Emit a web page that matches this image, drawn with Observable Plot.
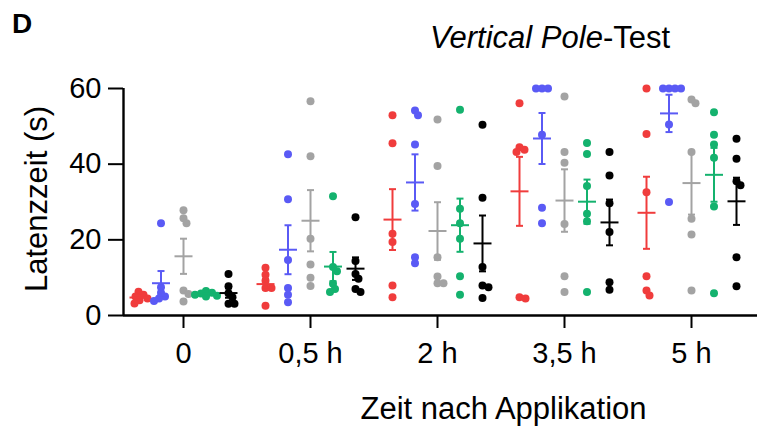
<!DOCTYPE html>
<html><head><meta charset="utf-8">
<script src="https://cdn.jsdelivr.net/npm/d3@7"></script>
<script src="https://cdn.jsdelivr.net/npm/@observablehq/plot@0.6"></script>
<style>
html,body{margin:0;padding:0;background:#fff;}
#chart svg{display:block;}
</style></head><body>
<div id="chart"></div>
<script>
// ---- data ----
const groups = ["0", "0,5 h", "2 h", "3,5 h", "5 h"];
const seriesNames = ["rot", "blau", "grau", "grün", "schwarz"];
const seriesColors = ["#f03c3c", "#5a5af5", "#a3a3a3", "#14b26e", "#000000"];
const rot     = [[6.3,5.5,5.0,4.5,4.0,3.2],[12.6,10.8,9.2,7.3,7.3,2.6],[52.9,45.5,21.6,19.4,7.9,4.8],[56.1,44.5,43.8,43.2,4.8,4.5],[60,48,32.6,10.4,6.6,5.3]];
const blau    = [[24.4,7.5,6.0,5.0,4.5,3.8],[42.6,30.7,14.7,7.3,5.5,3.5],[54.2,52.9,45.2,29.5,15.4,13.8],[60,60,60,47.8,28.5,24.4],[60,60,60,60,50.5,30]];
const grau    = [[27.8,25.7,24.4,6.6,5.7,3.7],[56.6,42.1,20.3,13.5,10.0,7.8],[51.8,39.5,15.4,10.3,8.5,8.5],[57.9,43.2,40.4,24.2,10.4,6.2],[57.1,56.1,43.2,25.6,21.4,6.6]];
const gruen   = [[6.5,6.0,5.8,5.5,5.2,5.0],[31.5,12.8,11.7,8.4,7.0,6.2],[54.4,28.2,24.4,20.3,10.4,5.5],[45.6,42.7,34.2,26.9,24.9,6.2],[53.7,47.8,45.2,41.7,28.8,5.9]];
const schwarz = [[11.0,7.7,5.9,4.8,3.1,3.1],[26.0,14.4,11.0,9.7,7.0,6.2],[50.4,31.1,12.8,7.9,7.5,4.6],[43.2,37.0,29.7,22.1,8.8,6.8],[46.7,41.4,35.5,34.4,15.4,7.7]];
const yTicks = [0, 20, 40, 60];

// ---- layout ----
const W = 757, H = 426;
const mL = 123, mR = 0, mT = 88, mB = 111;
const pxPerGroup = 127;
const x0 = -(183 - mL) / pxPerGroup;
const xDomain = [x0, x0 + (W - mL - mR) / pxPerGroup];
const pxPerY = (H - mT - mB) / 60;
const seriesSep = 22.5 / pxPerGroup;

const allSeries = [rot, blau, grau, gruen, schwarz];
const points = [], stats = [];
allSeries.forEach((ser, si) => {
  ser.forEach((vals, gi) => {
    const cx = gi + (si - 2) * seriesSep;
    // simple beeswarm in pixel space
    const placed = [];
    const sorted = vals.map((v, i) => ({v, i})).sort((a, b) => b.v - a.v);
    for (const p of sorted) {
      const py = p.v * pxPerY;
      let off = 0;
      for (let k = 0; k < 60; k++) {
        const cand = (k % 2 ? 1 : -1) * Math.ceil(k / 2) * 1.0;
        if (placed.every(q => Math.hypot(q.off - cand, q.py - py) >= 5.5)) { off = cand; break; }
      }
      placed.push({off, py});
      points.push({x: cx + off / pxPerGroup, y: p.v, color: seriesColors[si], s: seriesNames[si], g: groups[gi]});
    }
    const m = d3.mean(vals), sem = d3.deviation(vals) / Math.sqrt(vals.length);
    stats.push({cx, m, lo: m - sem, hi: m + sem, color: seriesColors[si]});
  });
});

const meanHW = 9 / pxPerGroup, capHW = 3.5 / pxPerGroup;

const plot = Plot.plot({
  width: W, height: H,
  marginLeft: mL, marginRight: mR, marginTop: mT, marginBottom: mB,
  x: {domain: xDomain, axis: null},
  y: {domain: [0, 60], axis: null},
  color: {type: "identity"},
  style: {fontFamily: "'Liberation Sans', Arial, sans-serif", fontSize: "29px", color: "#000", background: "#fff", overflow: "visible"},
  marks: [
    Plot.axisY({ticks: yTicks, tickSize: 15, tickPadding: 7, strokeWidth: 2, label: null, fontSize: 29}),
    Plot.axisX({ticks: d3.range(groups.length), tickFormat: i => groups[i], tickSize: 13, tickPadding: 14, strokeWidth: 2, label: null, fontSize: 29}),
    Plot.ruleY([0], {strokeWidth: 2.4}),
    Plot.ruleX([xDomain[0]], {y1: 0, y2: 60, strokeWidth: 2.4}),
    Plot.dot(points, {x: "x", y: "y", r: 4, fill: "color", stroke: null}),
    Plot.link(stats, {x1: d => d.cx, x2: d => d.cx, y1: "lo", y2: "hi", stroke: "color", strokeWidth: 2}),
    Plot.link(stats, {x1: d => d.cx - meanHW, x2: d => d.cx + meanHW, y1: "m", y2: "m", stroke: "color", strokeWidth: 2}),
    Plot.link(stats, {x1: d => d.cx - capHW, x2: d => d.cx + capHW, y1: "lo", y2: "lo", stroke: "color", strokeWidth: 2}),
    Plot.link(stats, {x1: d => d.cx - capHW, x2: d => d.cx + capHW, y1: "hi", y2: "hi", stroke: "color", strokeWidth: 2}),
    Plot.text(["Latenzzeit (s)"], {frameAnchor: "left", textAnchor: "middle", rotate: -90, dx: -86, dy: -3, lineAnchor: "middle", fontSize: 31}),
    Plot.text(["Zeit nach Applikation"], {frameAnchor: "bottom", textAnchor: "middle", dx: 63, dy: 94, lineAnchor: "middle", fontSize: 31})
  ]
});
document.getElementById("chart").appendChild(plot);

// panel letter and title
const svg = d3.select(plot);
svg.append("text").attr("x", 12).attr("y", 33).attr("text-anchor", "start").attr("font-weight", "bold").attr("font-size", 28).attr("fill", "#000").text("D");
const t = svg.append("text").attr("x", 430).attr("y", 48).attr("text-anchor", "start").attr("font-size", 31).attr("fill", "#000");
t.append("tspan").attr("font-style", "italic").text("Vertical Pole");
t.append("tspan").text("-Test");
</script>
</body></html>
